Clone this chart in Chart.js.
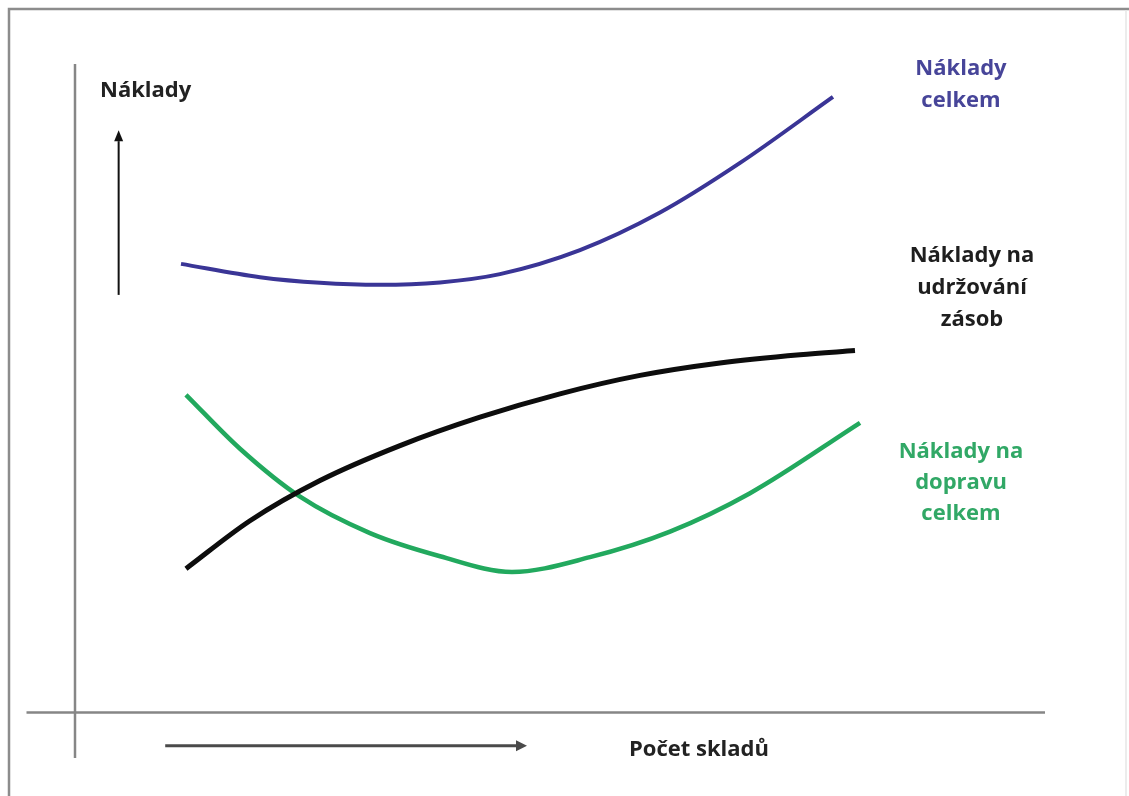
<!DOCTYPE html>
<html lang="cs">
<head>
<meta charset="utf-8">
<title>Náklady a počet skladů</title>
<script src="https://cdn.jsdelivr.net/npm/chart.js@4/dist/chart.umd.min.js"></script>
<style>
  html, body { margin: 0; padding: 0; background: #ffffff; }
  #wrap { width: 1129px; height: 796px; position: relative; }
  canvas { display: block; }
</style>
</head>
<body>
<div id="wrap"><canvas id="chart" width="1129" height="796"></canvas></div>
<script>
// Počet skladů (x) a náklady (y) pro jednotlivé křivky
const skladyCelkem = [1.093, 1.907, 2.526, 3.144, 3.763, 4.381, 5.206, 6.031, 6.856, 7.814];
const nakladyCelkem = [6.918, 6.712, 6.626, 6.595, 6.633, 6.761, 7.131, 7.710, 8.475, 9.492];

const skladyZasoby = [1.144, 1.804, 2.526, 3.351, 4.175, 5.000, 5.825, 6.649, 7.474, 8.041];
const nakladyZasoby = [2.219, 2.958, 3.578, 4.117, 4.555, 4.915, 5.199, 5.391, 5.519, 5.581];

const skladyDoprava = [1.144, 1.701, 2.320, 3.041, 3.763, 4.505, 5.309, 6.134, 6.959, 8.093];
const nakladyDoprava = [4.900, 4.068, 3.328, 2.767, 2.411, 2.168, 2.396, 2.790, 3.382, 4.467];

// Popisky
const popisOsyY = 'Náklady';
const popisOsyX = 'Počet skladů';
const popisCelkem = ['Náklady', 'celkem'];
const popisZasoby = ['Náklady na', 'udržování', 'zásob'];
const popisDoprava = ['Náklady na', 'dopravu', 'celkem'];

const toPoints = (xs, ys) => xs.map((x, i) => ({ x: x, y: ys[i] }));

const FONT = '"Open Sans", "DejaVu Sans", sans-serif';

function arrow(ctx, x1, y1, x2, y2, color, width, headLen, headHalf) {
  const ang = Math.atan2(y2 - y1, x2 - x1);
  const bx = x2 - headLen * Math.cos(ang);
  const by = y2 - headLen * Math.sin(ang);
  ctx.save();
  ctx.strokeStyle = color;
  ctx.fillStyle = color;
  ctx.lineWidth = width;
  ctx.beginPath();
  ctx.moveTo(x1, y1);
  ctx.lineTo(bx, by);
  ctx.stroke();
  ctx.beginPath();
  ctx.moveTo(x2, y2);
  ctx.lineTo(bx + headHalf * Math.sin(ang), by - headHalf * Math.cos(ang));
  ctx.lineTo(bx - headHalf * Math.sin(ang), by + headHalf * Math.cos(ang));
  ctx.closePath();
  ctx.fill();
  ctx.restore();
}

function textBlock(ctx, lines, cx, firstBaseline, lineGap, color) {
  ctx.save();
  ctx.fillStyle = color;
  ctx.font = 'bold 22px ' + FONT;
  ctx.textAlign = 'center';
  ctx.textBaseline = 'alphabetic';
  lines.forEach((t, i) => ctx.fillText(t, cx, firstBaseline + i * lineGap));
  ctx.restore();
}

const decor = {
  id: 'decor',
  beforeDraw(chart) {
    const ctx = chart.ctx;
    ctx.save();
    ctx.fillStyle = '#ffffff';
    ctx.fillRect(0, 0, chart.width, chart.height);
    // rámeček obrázku
    ctx.strokeStyle = '#8c8c8c';
    ctx.lineWidth = 2.5;
    ctx.beginPath();
    ctx.moveTo(9, chart.height + 2);
    ctx.lineTo(9, 9);
    ctx.lineTo(chart.width + 2, 9);
    ctx.stroke();
    ctx.strokeStyle = '#e6e6e6';
    ctx.lineWidth = 1.5;
    ctx.beginPath();
    ctx.moveTo(1126, 10);
    ctx.lineTo(1126, chart.height);
    ctx.stroke();
    ctx.restore();
  },
  beforeDatasetsDraw(chart) {
    const { ctx, chartArea, scales } = chart;
    const x0 = scales.x.getPixelForValue(0);
    const y0 = scales.y.getPixelForValue(0);
    ctx.save();
    ctx.strokeStyle = '#868686';
    ctx.lineWidth = 2.5;
    ctx.beginPath();
    ctx.moveTo(chartArea.left, y0);
    ctx.lineTo(chartArea.right, y0);
    ctx.moveTo(x0, chartArea.top);
    ctx.lineTo(x0, chartArea.bottom);
    ctx.stroke();
    ctx.restore();
  },
  afterDraw(chart) {
    const { ctx, scales } = chart;
    const sx = v => scales.x.getPixelForValue(v);
    const sy = v => scales.y.getPixelForValue(v);

    // šipky u os
    arrow(ctx, sx(0.93), sy(-0.51), sx(4.66), sy(-0.51), '#4a4a4a', 3, 11, 5.5);
    arrow(ctx, sx(0.45), sy(6.44), sx(0.45), sy(8.98), '#111111', 2, 11, 4.5);

    // popisky os
    ctx.save();
    ctx.fillStyle = '#222222';
    ctx.font = 'bold 22px ' + FONT;
    ctx.textAlign = 'left';
    ctx.textBaseline = 'alphabetic';
    ctx.fillText(popisOsyY, 100, 97);
    ctx.fillText(popisOsyX, 629, 756);
    ctx.restore();

    // popisky křivek
    textBlock(ctx, popisCelkem, 961, 75, 32, '#474599');
    textBlock(ctx, popisZasoby, 972, 262, 32, '#1e1e1e');
    textBlock(ctx, popisDoprava, 961, 458, 31, '#31a866');
  }
};

const lineStyle = {
  cubicInterpolationMode: 'monotone',
  pointRadius: 0,
  borderCapStyle: 'butt',
  borderJoinStyle: 'round',
  fill: false
};

new Chart(document.getElementById('chart'), {
  type: 'line',
  data: {
    datasets: [
      Object.assign({
        label: 'Náklady celkem',
        data: toPoints(skladyCelkem, nakladyCelkem),
        borderColor: '#3a3596',
        borderWidth: 4
      }, lineStyle),
      Object.assign({
        label: 'Náklady na udržování zásob',
        data: toPoints(skladyZasoby, nakladyZasoby),
        borderColor: '#0d0d0d',
        borderWidth: 5
      }, lineStyle),
      Object.assign({
        label: 'Náklady na dopravu celkem',
        data: toPoints(skladyDoprava, nakladyDoprava),
        borderColor: '#22a95e',
        borderWidth: 4.5
      }, lineStyle)
    ]
  },
  options: {
    responsive: false,
    animation: false,
    events: [],
    layout: { padding: { left: 26.5, right: 84, top: 64, bottom: 38 } },
    plugins: {
      legend: { display: false },
      title: { display: false },
      tooltip: { enabled: false }
    },
    scales: {
      x: { type: 'linear', min: -0.5, max: 10, display: false },
      y: { type: 'linear', min: -0.7, max: 10, display: false }
    }
  },
  plugins: [decor]
});
</script>
</body>
</html>
